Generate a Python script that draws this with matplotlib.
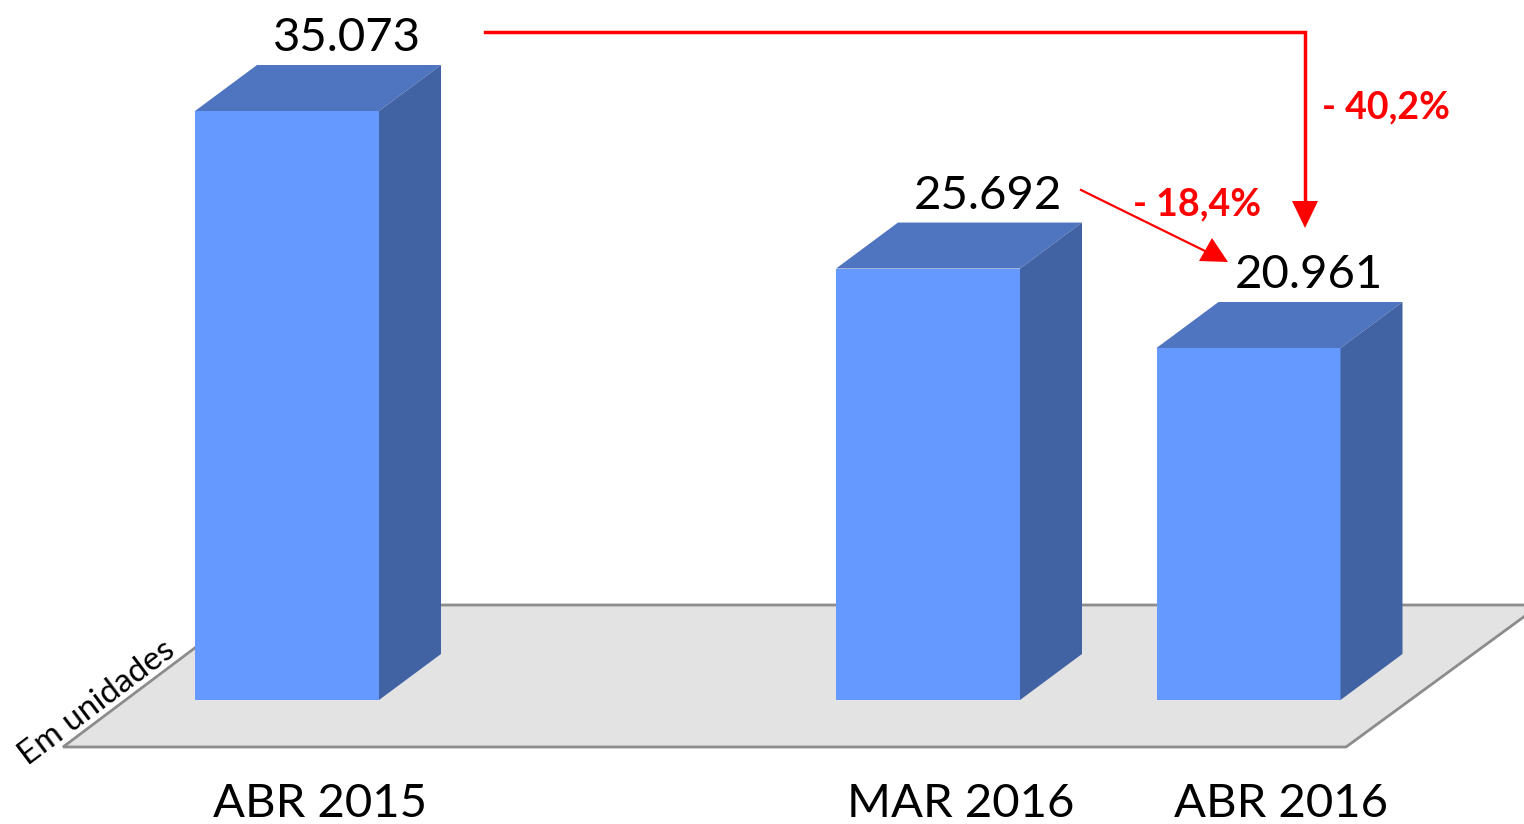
import matplotlib
matplotlib.use("Agg")
import matplotlib.pyplot as plt
from matplotlib.patches import Polygon

# data
categories = ["ABR 2015", "MAR 2016", "ABR 2016"]
values = [35073, 25692, 20961]
slots = [0, 2, 3]  # empty slot between 2015 and 2016

plt.rcParams["font.family"] = ["Lato", "DejaVu Sans"]

fig = plt.figure(figsize=(15.24, 8.24), dpi=100)
ax = fig.add_axes([0, 0, 1, 1])
ax.set_xlim(0, 1524)
ax.set_ylim(824, 0)
ax.axis("off")

# layout in pixels
base = 700
scale = 589 / 35073.0
x0, step, w = 195, 320.5, 184
dx, dy = 62, 46

front_c = "#6699FF"
top_c = "#4F74C0"
side_c = "#4163A3"

# floor
floor = Polygon([(63, 747), (1346, 747), (1540, 605), (252, 605)],
                closed=True, facecolor="#E3E3E3", edgecolor="#8C8C8C", lw=2, zorder=1)
ax.add_patch(floor)

for cat, v, s in zip(categories, values, slots):
    xl = x0 + s * step
    xr = xl + w
    yt = base - v * scale
    ax.add_patch(Polygon([(xl, base), (xr, base), (xr, yt), (xl, yt)],
                         facecolor=front_c, edgecolor="none", zorder=3))
    ax.add_patch(Polygon([(xl, yt), (xr, yt), (xr + dx, yt - dy), (xl + dx, yt - dy)],
                         facecolor=top_c, edgecolor="none", zorder=3))
    ax.add_patch(Polygon([(xr, base), (xr + dx, base - dy), (xr + dx, yt - dy), (xr, yt)],
                         facecolor=side_c, edgecolor="none", zorder=3))
    lbl = "{:,}".format(v).replace(",", ".")
    ax.text(xl + w / 2 + dx - 2, yt - dy - 14, lbl, ha="center", va="baseline",
            fontsize=34, color="black", zorder=5)
    ax.text(xl + w / 2 + 33, 804, cat, ha="center", va="center",
            fontsize=34, color="black")

ax.text(97, 703, "Em unidades", rotation=37, ha="center", va="center",
        fontsize=24, rotation_mode="anchor")

# change annotations
pct_year = (values[2] / values[0] - 1) * 100
pct_month = (values[2] / values[1] - 1) * 100


def fmt(p):
    return "- " + "{:.1f}".format(abs(p)).replace(".", ",") + "%"


red = "#FF0000"
ax.plot([485, 1305, 1305], [32, 32, 202], color=red, lw=2.5, zorder=6,
        solid_joinstyle="miter")
ax.add_patch(Polygon([(1292, 201), (1318, 201), (1305, 228)], facecolor=red,
                     edgecolor="none", zorder=6))
ax.text(1322, 107, fmt(pct_year), color=red, fontsize=27, fontweight="bold",
        ha="left", va="center")

ax.plot([1081, 1207], [190, 252], color=red, lw=1.6, zorder=6)
ax.add_patch(Polygon([(1199, 261), (1212, 238), (1228, 262)], facecolor=red,
                     edgecolor="none", zorder=6))
ax.text(1133, 204, fmt(pct_month), color=red, fontsize=27, fontweight="bold",
        ha="left", va="center")

fig.savefig("out.png", dpi=100)
